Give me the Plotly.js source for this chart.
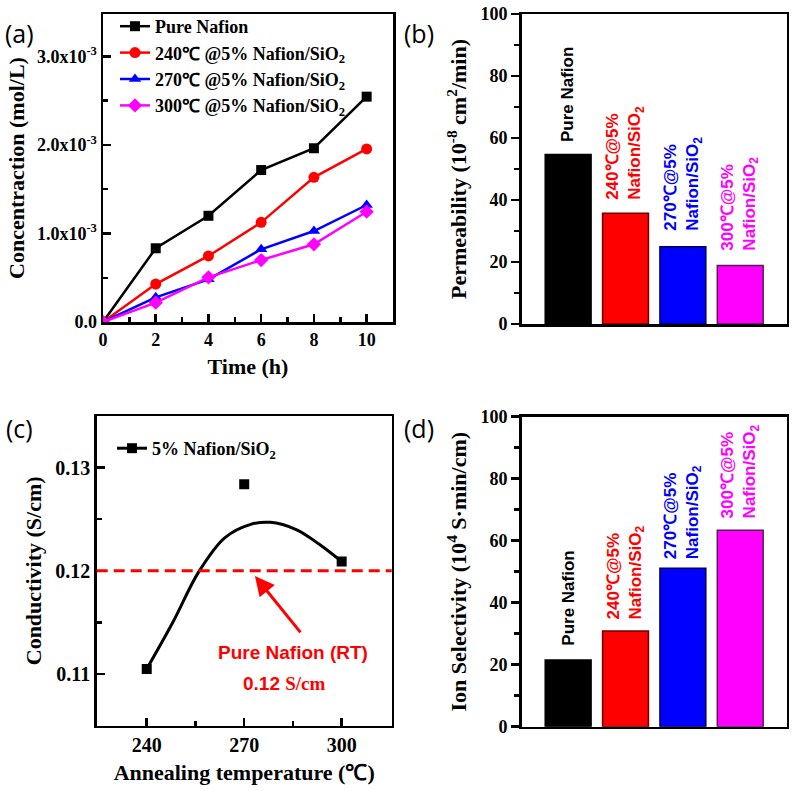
<!DOCTYPE html>
<html><head><meta charset="utf-8">
<script src="https://cdn.plot.ly/plotly-3.0.1.min.js"></script>
<style>html,body{margin:0;padding:0;background:#fff}#chart{width:796px;height:791px}</style>
</head><body><div id="chart"></div>
<script>
// ---- (a) concentration vs time ----
const time = [0, 2, 4, 6, 8, 10];
const concPure = [0, 0.833e-3, 1.200e-3, 1.717e-3, 1.963e-3, 2.546e-3];
const conc240 = [0, 0.429e-3, 0.746e-3, 1.126e-3, 1.635e-3, 1.955e-3];
const conc270 = [0, 0.279e-3, 0.482e-3, 0.821e-3, 1.028e-3, 1.322e-3];
const conc300 = [0, 0.218e-3, 0.505e-3, 0.700e-3, 0.878e-3, 1.246e-3];
const seriesNames = ['Pure Nafion', '240℃ @5% Nafion/SiO<sub>2</sub>', '270℃ @5% Nafion/SiO<sub>2</sub>', '300℃ @5% Nafion/SiO<sub>2</sub>'];
const concTickVals = [0, 1e-3, 2e-3, 3e-3];
const concTickText = ['0.0', '1.0x10<sup>-3</sup>', '2.0x10<sup>-3</sup>', '3.0x10<sup>-3</sup>'];
const concMinor = [0.5e-3, 1.5e-3, 2.5e-3];
const timeTicks = [0, 2, 4, 6, 8, 10];
const timeMinor = [1, 3, 5, 7, 9];

// ---- (b),(d) bars ----
const samples = ['Pure Nafion', '240℃@5% Nafion/SiO2', '270℃@5% Nafion/SiO2', '300℃@5% Nafion/SiO2'];
const barLabels = ['Pure Nafion', '240℃@5%<br>Nafion/SiO<sub>2</sub>', '270℃@5%<br>Nafion/SiO<sub>2</sub>', '300℃@5%<br>Nafion/SiO<sub>2</sub>'];
const permeability = [54.7, 35.7, 24.9, 18.9];
const selectivity = [21.5, 30.9, 51.1, 63.4];
const barTicks = [0, 20, 40, 60, 80, 100];

// ---- (c) conductivity ----
const annealT = [240, 270, 300];
const conductivity = [0.1105, 0.1284, 0.1209];
const fitT = [240, 248, 256, 264, 272, 278, 286, 293, 300];
const fitC = [0.1105, 0.1150, 0.1199, 0.1232, 0.1245, 0.1247, 0.1240, 0.1226, 0.1209];
const pureNafionRT = 0.12;
const condTicks = [0.11, 0.12, 0.13];
const condMinor = [0.115, 0.125];
const tempTicks = [240, 270, 300];
const tempMinor = [255, 285];

const colors = ['#000000', '#ff0000', '#0000ff', '#ff00ff'];
const edge = ['#000000', '#6a0000', '#00005a', '#5a1a5a'];
const symbols = ['square', 'circle', 'triangle-up', 'diamond'];

const SERIF = 'Liberation Serif, Times New Roman, serif';
const SANS = 'Liberation Sans, Arial, sans-serif';
const tickFont = {family: SERIF, size: 18, color: '#000', weight: 700};
const titleFont = {family: SERIF, size: 22, color: '#000', weight: 700};

const concSeries = [concPure, conc240, conc270, conc300];
const traces = concSeries.map((ys, i) => ({
  type: 'scatter', mode: 'lines+markers', x: time, y: ys, name: seriesNames[i],
  xaxis: 'x', yaxis: 'y', legend: 'legend',
  line: {color: colors[i], width: 2.5},
  marker: {symbol: symbols[i], color: colors[i], size: i === 0 ? 10 : 11}
}));

traces.push({type: 'bar', x: samples, y: permeability, xaxis: 'x2', yaxis: 'y2', width: 0.8,
  marker: {color: colors, line: {color: edge, width: 1.5}}, showlegend: false});
traces.push({type: 'bar', x: samples, y: selectivity, xaxis: 'x4', yaxis: 'y4', width: 0.8,
  marker: {color: colors, line: {color: edge, width: 1.5}}, showlegend: false});

traces.push({type: 'scatter', mode: 'lines', x: fitT, y: fitC, line: {shape: 'spline', color: '#000', width: 3},
  xaxis: 'x3', yaxis: 'y3', showlegend: false});
traces.push({type: 'scatter', mode: 'markers', x: annealT, y: conductivity,
  marker: {symbol: 'square', color: '#000', size: 10}, xaxis: 'x3', yaxis: 'y3', showlegend: false});
traces.push({type: 'scatter', mode: 'lines+markers', x: [null], y: [null], name: '5% Nafion/SiO<sub>2</sub>',
  line: {color: '#000', width: 3}, marker: {symbol: 'square', color: '#000', size: 10},
  xaxis: 'x3', yaxis: 'y3', legend: 'legend2'});

function axBase(extra) {
  return Object.assign({showline: true, linewidth: 2.5, linecolor: '#000', mirror: true,
    showgrid: false, zeroline: false, tickfont: tickFont, tickwidth: 2.5, tickcolor: '#000'}, extra);
}

const annotations = [];
[['(a)', 0.025, 1 - 33 / 791], ['(b)', 419 / 796, 1 - 33 / 791], ['(c)', 0.025, 1 - 428 / 791], ['(d)', 419 / 796, 1 - 428 / 791]]
  .forEach(p => annotations.push({text: p[0], x: p[1], y: p[2], xref: 'paper', yref: 'paper', showarrow: false,
    xanchor: 'center', yanchor: 'middle', font: {family: 'Open Sans, sans-serif', size: 25, color: '#000'}}));

const permShift = [10, 11, 14, 13];
const selShift = [12, 9, 7, 10];
samples.forEach((s, i) => {
  annotations.push({text: barLabels[i], x: s, y: permeability[i], xref: 'x2', yref: 'y2', showarrow: false,
    textangle: -90, xanchor: 'center', yanchor: 'bottom', align: 'left', yshift: permShift[i],
    font: {family: SANS, size: 17, color: colors[i], weight: 700}});
  annotations.push({text: barLabels[i], x: s, y: selectivity[i], xref: 'x4', yref: 'y4', showarrow: false,
    textangle: -90, xanchor: 'center', yanchor: 'bottom', align: 'left', yshift: selShift[i],
    font: {family: SANS, size: 17, color: colors[i], weight: 700}});
});

annotations.push({x: 273.3, y: 0.1195, ax: 287.7, ay: 0.1139, xref: 'x3', yref: 'y3', axref: 'x3', ayref: 'y3',
  showarrow: true, arrowhead: 2, arrowsize: 1.3, arrowwidth: 3, arrowcolor: '#ff0000', text: ''});
annotations.push({x: 285, y: 0.1121, xref: 'x3', yref: 'y3', showarrow: false, text: 'Pure Nafion (RT)',
  font: {family: SANS, size: 19, color: '#ff0000', weight: 700}});
annotations.push({x: 282.5, y: 0.1091, xref: 'x3', yref: 'y3', showarrow: false,
  text: pureNafionRT.toFixed(2) + ' <span style="font-family:Liberation Serif">S/cm</span>',
  font: {family: SANS, size: 19, color: '#ff0000', weight: 700}});

const layout = {
  width: 796, height: 791, margin: {l: 0, r: 0, t: 0, b: 0},
  paper_bgcolor: '#fff', plot_bgcolor: '#fff',
  xaxis: axBase({domain: [103 / 796, 393 / 796], anchor: 'y', range: [0, 11], tickvals: timeTicks, ticks: 'inside', ticklen: 8,
    minor: {tickvals: timeMinor, ticks: 'inside', ticklen: 5, tickwidth: 2.5, tickcolor: '#000'},
    title: {text: 'Time (h)', font: titleFont, standoff: 10}}),
  yaxis: axBase({domain: [1 - 322 / 791, 1 - 14 / 791], anchor: 'x', range: [0, 3.48e-3], tickvals: concTickVals, ticktext: concTickText,
    ticks: 'inside', ticklen: 8,
    minor: {tickvals: concMinor, ticks: 'inside', ticklen: 5, tickwidth: 2.5, tickcolor: '#000'},
    title: {text: 'Concentraction (mol/L)', font: titleFont, standoff: 6}}),
  xaxis2: axBase({domain: [521.7 / 796, 786.7 / 796], anchor: 'y2', range: [-0.81, 3.81], showticklabels: false, ticks: ''}),
  yaxis2: axBase({domain: [1 - 324 / 791, 1 - 14 / 791], anchor: 'x2', range: [0, 100], tickvals: barTicks, ticks: 'outside', ticklen: 8,
    minor: {dtick: 10, ticks: 'outside', ticklen: 5, tickwidth: 2.5, tickcolor: '#000'},
    title: {text: 'Permeability (10<sup>-8</sup> cm<sup>2</sup>/min)', font: titleFont, standoff: 8}}),
  xaxis3: axBase({domain: [96.7 / 796, 391.7 / 796], anchor: 'y3', range: [224.6, 315.4], tickvals: tempTicks, ticks: 'inside', ticklen: 8,
    tickfont: Object.assign({}, tickFont, {size: 20}),
    minor: {tickvals: tempMinor, ticks: 'inside', ticklen: 5, tickwidth: 2.5, tickcolor: '#000'},
    title: {text: 'Annealing temperature (℃)', font: titleFont, standoff: 10}}),
  yaxis3: axBase({domain: [1 - 725.7 / 791, 1 - 416 / 791], anchor: 'x3', range: [0.105, 0.135], tickvals: condTicks, ticks: 'inside', ticklen: 8,
    tickfont: Object.assign({}, tickFont, {size: 20}),
    minor: {tickvals: condMinor, ticks: 'inside', ticklen: 5, tickwidth: 2.5, tickcolor: '#000'},
    title: {text: 'Conductivity (S/cm)', font: titleFont, standoff: 8}}),
  xaxis4: axBase({domain: [521.7 / 796, 786.7 / 796], anchor: 'y4', range: [-0.81, 3.81], showticklabels: false, ticks: ''}),
  yaxis4: axBase({domain: [1 - 726.7 / 791, 1 - 416.7 / 791], anchor: 'x4', range: [0, 100], tickvals: barTicks, ticks: 'outside', ticklen: 8,
    minor: {dtick: 10, ticks: 'outside', ticklen: 5, tickwidth: 2.5, tickcolor: '#000'},
    title: {text: 'Ion Selectivity (10<sup>4</sup> S·min/cm)', font: titleFont, standoff: 8}}),
  legend: {x: 115 / 796, y: 1 - 8 / 791, xanchor: 'left', yanchor: 'top', bgcolor: 'rgba(0,0,0,0)',
    font: {family: SERIF, size: 18, color: '#000', weight: 700}},
  legend2: {x: 112 / 796, y: 1 - 430 / 791, xanchor: 'left', yanchor: 'top', bgcolor: 'rgba(0,0,0,0)',
    font: {family: SERIF, size: 18, color: '#000', weight: 700}},
  shapes: [{type: 'line', xref: 'x3 domain', yref: 'y3', x0: 0, x1: 1, y0: pureNafionRT, y1: pureNafionRT,
    line: {color: '#ff0000', width: 3, dash: '11px,6px'}}],
  annotations: annotations,
  showlegend: true
};

Plotly.newPlot('chart', traces, layout, {displayModeBar: false, staticPlot: true});
</script></body></html>
